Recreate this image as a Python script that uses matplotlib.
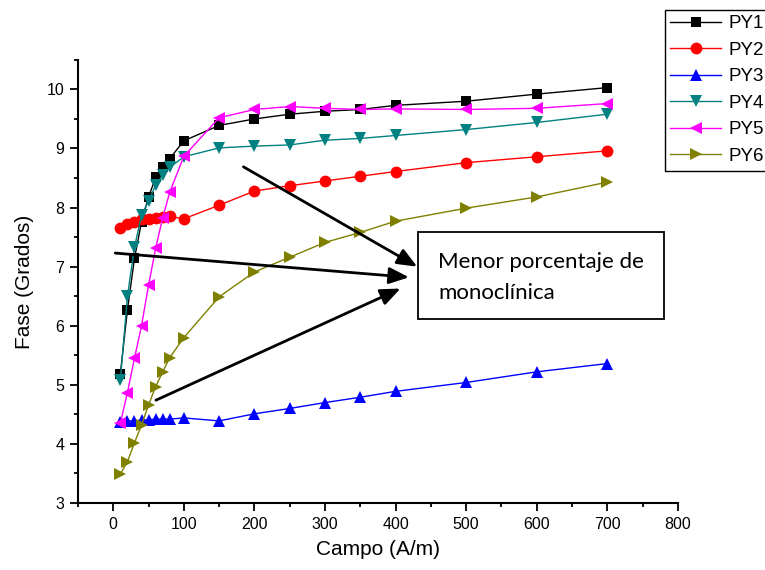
import matplotlib
matplotlib.use('Agg')
import matplotlib.pyplot as plt
from matplotlib.patches import Rectangle
from matplotlib.ticker import MultipleLocator

plt.rcParams['font.family'] = ['Liberation Sans', 'DejaVu Sans']

campo = [10, 20, 30, 40, 50, 60, 70, 80, 100, 150, 200, 250, 300, 350, 400, 500, 600, 700]
py1 = [5.19, 6.27, 7.14, 7.76, 8.18, 8.51, 8.69, 8.83, 9.13, 9.39, 9.50, 9.58, 9.63, 9.66, 9.73, 9.80, 9.92, 10.03]
py2 = [7.66, 7.72, 7.76, 7.80, 7.81, 7.83, 7.84, 7.85, 7.81, 8.04, 8.28, 8.37, 8.45, 8.53, 8.61, 8.76, 8.86, 8.96]
py3 = [4.37, 4.39, 4.39, 4.40, 4.41, 4.42, 4.42, 4.42, 4.44, 4.39, 4.51, 4.60, 4.70, 4.79, 4.89, 5.04, 5.22, 5.36]
py4 = [5.08, 6.50, 7.33, 7.87, 8.11, 8.38, 8.55, 8.68, 8.86, 9.01, 9.04, 9.06, 9.14, 9.17, 9.22, 9.32, 9.44, 9.58]
py5 = [4.35, 4.87, 5.45, 6.00, 6.69, 7.31, 7.83, 8.26, 8.87, 9.52, 9.66, 9.71, 9.68, 9.66, 9.67, 9.66, 9.68, 9.76]
py6 = [3.49, 3.70, 4.02, 4.32, 4.66, 4.97, 5.22, 5.46, 5.80, 6.49, 6.91, 7.16, 7.41, 7.58, 7.77, 7.99, 8.18, 8.43]

series = [
    ('PY1', py1, 'black', 's', 7.5),
    ('PY2', py2, 'red', 'o', 8.5),
    ('PY3', py3, 'blue', '^', 9),
    ('PY4', py4, '#008080', 'v', 9),
    ('PY5', py5, '#ff00ff', '<', 9),
    ('PY6', py6, '#808000', '>', 9),
]

fig = plt.figure(figsize=(7.65, 5.7), dpi=100)
ax = fig.add_axes([0.102, 0.1175, 0.784, 0.7775])

for name, vals, col, mk, ms in series:
    ax.plot(campo, vals, color=col, marker=mk, ms=ms, lw=1.0, label=name,
            markeredgewidth=0, clip_on=False)

ax.set_xlim(-50, 800)
ax.set_ylim(3, 10.5)
ax.xaxis.set_major_locator(MultipleLocator(100))
ax.xaxis.set_minor_locator(MultipleLocator(50))
ax.yaxis.set_major_locator(MultipleLocator(1))
ax.yaxis.set_minor_locator(MultipleLocator(0.5))
ax.set_xticks(range(0, 801, 100))
ax.spines['top'].set_visible(False)
ax.spines['right'].set_visible(False)
for s in ('left', 'bottom'):
    ax.spines[s].set_linewidth(1.5)
ax.tick_params(which='major', length=6, width=1.3, labelsize=11.5, pad=4)
ax.tick_params(which='minor', length=3, width=1.3)

ax.set_xlabel('Campo (A/m)', fontsize=15, labelpad=6)
ax.set_ylabel('Fase (Grados)', fontsize=15, labelpad=9)

# annotation box
ax.add_patch(Rectangle((431.7, 6.12), 348.3, 1.47, fill=False, ec='black', lw=1.3, clip_on=False, zorder=5))
ax.text(460, 7.08, 'Menor porcentaje de', fontsize=16, family=['Lato', 'DejaVu Sans'], va='center', ha='left')
ax.text(460, 6.55, 'monoclínica', fontsize=16, family=['Lato', 'DejaVu Sans'], va='center', ha='left')

arrows = [((184.4, 8.69), (430.7, 7.0)),
          ((2.8, 7.23), (419, 6.82)),
          ((60.4, 4.74), (407, 6.63))]
for start, end in arrows:
    ax.annotate('', xy=end, xytext=start,
                arrowprops=dict(arrowstyle='-|>,head_length=1.2,head_width=0.5',
                                color='black', lw=2, shrinkA=0, shrinkB=0),
                zorder=6)

leg = fig.legend(loc='upper left', bbox_to_anchor=(0.869, 0.983), fontsize=13.5,
                 frameon=True, fancybox=False, edgecolor='black', framealpha=1,
                 handlelength=2.7, labelspacing=0.5, borderpad=0.3,
                 handletextpad=0.4, borderaxespad=0)
leg.get_frame().set_linewidth(1.0)

fig.savefig('out.png', dpi=100)
